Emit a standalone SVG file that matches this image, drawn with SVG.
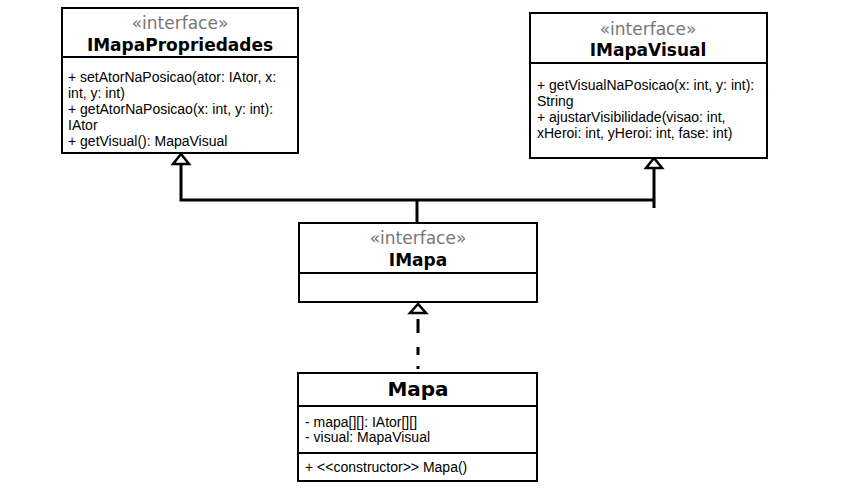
<svg xmlns="http://www.w3.org/2000/svg" width="858" height="492" viewBox="0 0 858 492">
<style>
.box{fill:#fff;stroke:#000;stroke-width:2}
.div{stroke:#000;stroke-width:2}
.st{font-family:"DejaVu Sans",sans-serif;font-size:17px;fill:#777;text-anchor:middle}
.nm{font-family:"DejaVu Sans",sans-serif;font-size:17px;font-weight:bold;fill:#000;text-anchor:middle}
.bd{font-family:"Liberation Sans",Arial,sans-serif;font-size:14px;fill:#000}
.ln{fill:none;stroke:#000;stroke-width:3}
.tri{fill:#fff;stroke:#000;stroke-width:2.5;stroke-linejoin:miter}
</style>
<g id="connectors">
<polyline class="ln" points="181,164 181,200 654,200"/>
<line class="ln" x1="654" y1="168" x2="654" y2="208"/>
<line class="ln" x1="417" y1="200" x2="417" y2="223"/>
<polygon class="tri" points="181,154 173,164 189,164"/>
<polygon class="tri" points="654,158 646,168 662,168"/>
<line class="ln" x1="418" y1="319" x2="418" y2="370" stroke-dasharray="14 14 8 11 3 20"/>
<polygon class="tri" points="418,304 410,313 426,313"/>
</g>
<g id="IMapaPropriedades">
<rect class="box" x="62" y="8" width="236" height="145"/>
<line class="div" x1="62" y1="57" x2="298" y2="57"/>
<text class="st" x="180" y="29">«interface»</text>
<text class="nm" x="180" y="51">IMapaPropriedades</text>
<text class="bd" x="68" y="82">+ setAtorNaPosicao(ator: IAtor, x:</text>
<text class="bd" x="68" y="98">int, y: int)</text>
<text class="bd" x="68" y="114">+ getAtorNaPosicao(x: int, y: int):</text>
<text class="bd" x="68" y="130">IAtor</text>
<text class="bd" x="68" y="146">+ getVisual(): MapaVisual</text>
</g>
<g id="IMapaVisual">
<rect class="box" x="530" y="13" width="237" height="145"/>
<line class="div" x1="530" y1="63" x2="767" y2="63"/>
<text class="st" x="648" y="35">«interface»</text>
<text class="nm" x="648" y="56">IMapaVisual</text>
<text class="bd" x="537" y="90">+ getVisualNaPosicao(x: int, y: int):</text>
<text class="bd" x="537" y="106">String</text>
<text class="bd" x="537" y="122">+ ajustarVisibilidade(visao: int,</text>
<text class="bd" x="537" y="138">xHeroi: int, yHeroi: int, fase: int)</text>
</g>
<g id="IMapa">
<rect class="box" x="299" y="223" width="238" height="79"/>
<line class="div" x1="299" y1="273" x2="537" y2="273"/>
<text class="st" x="418" y="244">«interface»</text>
<text class="nm" x="418" y="266">IMapa</text>
</g>
<g id="Mapa">
<rect class="box" x="298" y="373" width="239" height="108"/>
<line class="div" x1="298" y1="406" x2="537" y2="406"/>
<line class="div" x1="298" y1="453" x2="537" y2="453"/>
<text class="nm" x="418" y="396" style="font-size:20px">Mapa</text>
<text class="bd" x="305" y="427">- mapa[][]: IAtor[][]</text>
<text class="bd" x="305" y="442">- visual: MapaVisual</text>
<text class="bd" x="305" y="472">+ &lt;&lt;constructor&gt;&gt; Mapa()</text>
</g>
</svg>
